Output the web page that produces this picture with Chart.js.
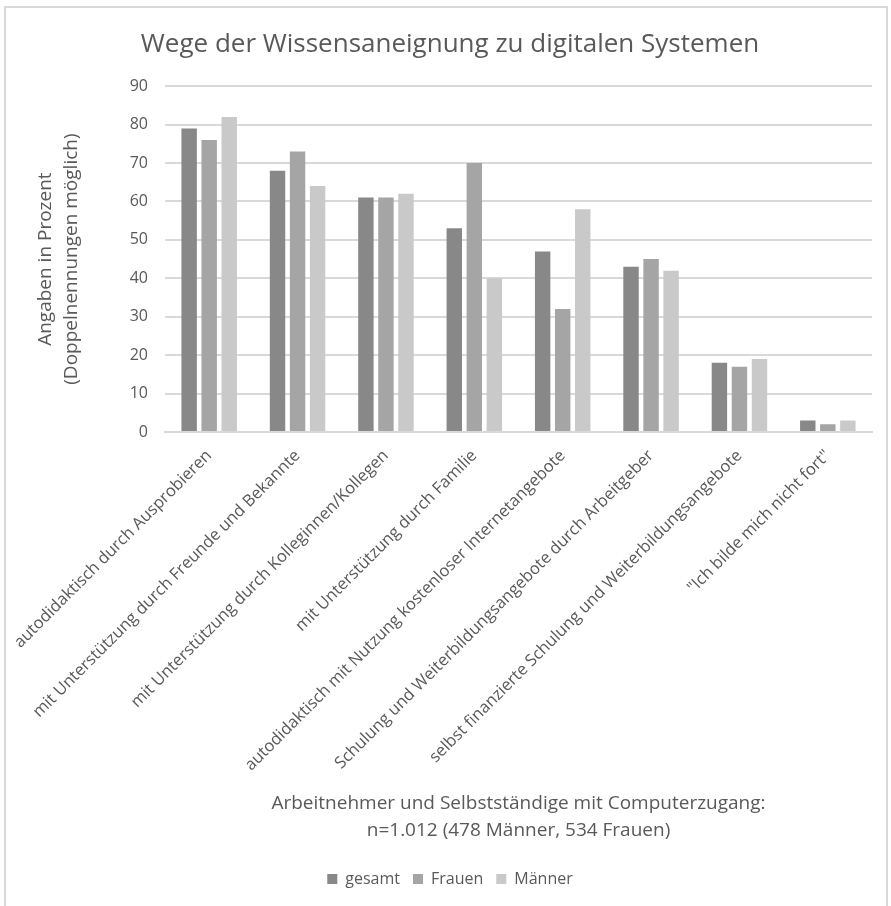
<!DOCTYPE html>
<html lang="de">
<head>
<meta charset="utf-8">
<title>Wege der Wissensaneignung zu digitalen Systemen</title>
<script src="https://cdn.jsdelivr.net/npm/chart.js@4.4.1/dist/chart.umd.min.js"></script>
<style>
  html, body { margin: 0; padding: 0; background: #fff; }
  #wrap { position: relative; width: 891px; height: 906px; overflow: hidden; }
  #frame { position: absolute; left: 4px; top: 6px; width: 884px; height: 910px;
           border: 2px solid #d9d9d9; box-sizing: border-box; }
  #chart { position: absolute; left: 0; top: 0; }
</style>
</head>
<body>
<div id="wrap">
  <div id="frame"></div>
  <canvas id="chart" width="891" height="906"></canvas>
</div>
<script>
// ── Data ─────────────────────────────────────────────
const categories = [
  'autodidaktisch durch Ausprobieren',
  'mit Unterstützung durch Freunde und Bekannte',
  'mit Unterstützung durch Kolleginnen/Kollegen',
  'mit Unterstützung durch Familie',
  'autodidaktisch mit Nutzung kostenloser Internetangebote',
  'Schulung und Weiterbildungsangebote durch Arbeitgeber',
  'selbst finanzierte Schulung und Weiterbildungsangebote',
  '"Ich bilde mich nicht fort"'
];
const gesamt = [79, 68, 61, 53, 47, 43, 18, 3];
const frauen = [76, 73, 61, 70, 32, 45, 17, 2];
const maenner = [82, 64, 62, 40, 58, 42, 19, 3];

const TEXT = '#595959';
const GRID = '#d9d9d9';
const FONT = "'Open Sans', sans-serif";

Chart.defaults.font.family = FONT;
Chart.defaults.color = TEXT;

const common = { categoryPercentage: 0.68, barPercentage: 0.77 };

new Chart(document.getElementById('chart'), {
  type: 'bar',
  data: {
    labels: categories,
    datasets: [
      { label: 'gesamt', data: gesamt, backgroundColor: '#888888', ...common },
      { label: 'Frauen', data: frauen, backgroundColor: '#a5a5a5', ...common },
      { label: 'Männer', data: maenner, backgroundColor: '#c9c9c9', ...common }
    ]
  },
  options: {
    responsive: false,
    animation: false,
    layout: { padding: { left: 28, right: 19, top: 0, bottom: 9 } },
    plugins: {
      title: {
        display: true,
        text: 'Wege der Wissensaneignung zu digitalen Systemen',
        color: TEXT,
        font: { size: 26, weight: 'normal' },
        padding: { top: 29, bottom: 26 }
      },
      legend: {
        position: 'bottom',
        labels: { boxWidth: 10, boxHeight: 10, padding: 13, color: TEXT, font: { size: 16 } }
      },
      tooltip: { enabled: false }
    },
    scales: {
      y: {
        min: 0, max: 90,
        afterFit: s => { s.width = 137; },
        ticks: { stepSize: 10, padding: 17, color: TEXT, font: { size: 16 } },
        grid: { color: GRID, lineWidth: 2, drawTicks: false },
        border: { display: false },
        title: {
          display: true,
          text: ['Angaben in Prozent', '(Doppelnennungen möglich)'],
          color: TEXT,
          font: { size: 19, lineHeight: 1.35 },
          padding: { top: 5, bottom: 0 }
        }
      },
      x: {
        afterFit: s => { s.height = 426; },
        ticks: { minRotation: 45, maxRotation: 45, autoSkip: false, padding: 6, color: TEXT, font: { size: 16.5 } },
        grid: { display: false },
        border: { color: GRID, width: 2 },
        title: {
          display: true,
          text: ['Arbeitnehmer und Selbstständige mit Computerzugang:', 'n=1.012 (478 Männer, 534 Frauen)'],
          color: TEXT,
          font: { size: 19, lineHeight: 1.42 },
          padding: { top: 0, bottom: 14 }
        }
      }
    }
  }
});
</script>
</body>
</html>
